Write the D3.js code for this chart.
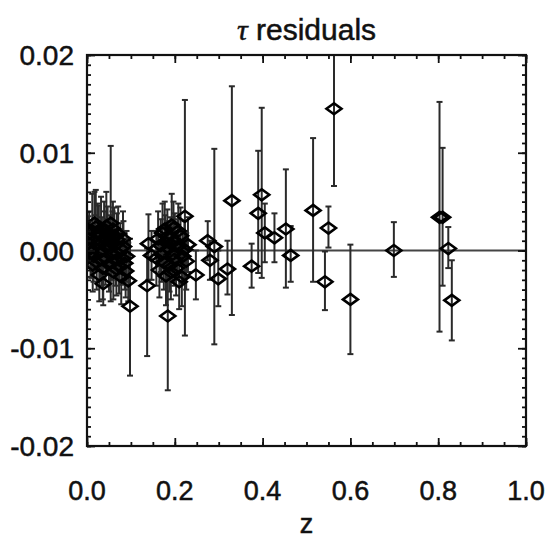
<html>
<head>
    <script src="https://cdnjs.cloudflare.com/ajax/libs/d3/7.8.5/d3.min.js"></script>
    <style>
        body { margin: 0; background: #fff; }
        text { font-family: 'Liberation Sans', Arial, sans-serif; fill: #111; stroke: #111; stroke-width: 0.5; }
    </style>
</head>
<body>
    <script>
        // redshift of each object
        const zValues = [
            0.005, 0.008, 0.010, 0.012, 0.015, 0.018, 0.020, 0.022, 0.025, 0.027,
            0.028, 0.030, 0.032, 0.034, 0.036, 0.037, 0.040, 0.042, 0.044, 0.045,
            0.047, 0.050, 0.052, 0.054, 0.056, 0.058, 0.060, 0.062, 0.063, 0.065,
            0.068, 0.070, 0.073, 0.076, 0.078, 0.080, 0.083, 0.086, 0.090, 0.094,
            0.098, 0.137, 0.140, 0.147, 0.158, 0.162, 0.165, 0.168, 0.172, 0.175,
            0.178, 0.180, 0.183, 0.184, 0.186, 0.188, 0.190, 0.193, 0.195, 0.197,
            0.200, 0.203, 0.206, 0.210, 0.213, 0.216, 0.218, 0.222, 0.223, 0.226,
            0.230, 0.248, 0.275, 0.280, 0.290, 0.299, 0.320, 0.330, 0.375, 0.390,
            0.398, 0.405, 0.427, 0.453, 0.464, 0.515, 0.542, 0.550, 0.5626, 0.600,
            0.699, 0.803, 0.810, 0.823, 0.831,
            0.003, 0.013, 0.017, 0.024, 0.033, 0.039, 0.048, 0.059, 0.067, 0.071,
            0.082, 0.088, 0.170, 0.177, 0.191, 0.199, 0.208
        ];
        // tau residual
        const tauValues = [
            0.0014, 0.0002, -0.0002, 0.0020, -0.0006, 0.0010, 0.0024, -0.0012, 0.0006, 0.0016,
            -0.0025, -0.0002, 0.0022, 0.0008, -0.0018, -0.0034, 0.0012, -0.0008, 0.0025, 0.0003,
            0.0018, -0.0014, 0.0009, 0.0028, -0.0004, 0.0013, -0.0022, 0.0015, 0.0005, -0.0010,
            0.0011, -0.0003, -0.0016, 0.0002, -0.0027, -0.0008, 0.0004, -0.0013, -0.0006, -0.0031,
            -0.0057, -0.0036, 0.0007, -0.0005, -0.0008, 0.0012, -0.0020, 0.0005, 0.0018, -0.0012,
            0.0009, -0.0026, 0.0014, -0.0067, 0.0002, -0.0015, 0.0007, 0.0026, -0.0004, 0.0023,
            0.0010, -0.0018, 0.0004, -0.0032, 0.0015, -0.0027, -0.0006, 0.0001, 0.0035, -0.0011,
            0.0006, -0.0025, 0.0010, -0.0010, 0.0004, -0.0029, -0.0019, 0.0051, -0.0016, 0.0038,
            0.0057, 0.0018, 0.0013, 0.0022, -0.0005, 0.0041, -0.0032, 0.0023, 0.0145, -0.0050,
            0.0000, 0.0034, 0.0034, 0.0002, -0.0051,
            0.0008, -0.0015, 0.0028, 0.0019, -0.0009, 0.0021, 0.0006, 0.0022, -0.0019, 0.0017,
            0.0012, -0.0021, -0.0004, 0.0022, -0.0022, -0.0009, 0.0020
        ];
        // upper end of each error bar
        const tauHigh = [
            0.0040, 0.0031, 0.0023, 0.0058, 0.0020, 0.0036, 0.0062, 0.0015, 0.0030, 0.0046,
            0.0005, 0.0025, 0.0055, 0.0034, 0.0012, -0.0008, 0.0040, 0.0020, 0.0060, 0.0028,
            0.0045, 0.0012, 0.0036, 0.0107, 0.0022, 0.0040, 0.0004, 0.0044, 0.0030, 0.0016,
            0.0038, 0.0022, 0.0010, 0.0028, 0.0000, 0.0018, 0.0030, 0.0012, 0.0020, 0.0008,
            0.0012, 0.0002, 0.0037, 0.0020, 0.0020, 0.0040, 0.0008, 0.0032, 0.0048, 0.0016,
            0.0036, 0.0004, 0.0042, 0.0005, 0.0030, 0.0012, 0.0034, 0.0058, 0.0024, 0.0050,
            0.0038, 0.0010, 0.0032, -0.0004, 0.0044, 0.0005, 0.0022, 0.0030, 0.0154, 0.0018,
            0.0034, 0.0000, 0.0030, 0.0010, 0.0104, 0.0000, 0.0010, 0.0168, 0.0007, 0.0102,
            0.0146, 0.0048, 0.0038, 0.0083, 0.0025, 0.0115, -0.0001, 0.0045, 0.0235, 0.0006,
            0.0029, 0.0152, 0.0105, 0.0024, -0.0010,
            0.0035, 0.0012, 0.0060, 0.0048, 0.0018, 0.0050, 0.0032, 0.0050, 0.0008, 0.0045,
            0.0040, 0.0005, 0.0024, 0.0050, 0.0006, 0.0018, 0.0048
        ];
        // lower end of each error bar
        const tauLow = [
            -0.0012, -0.0027, -0.0028, -0.0016, -0.0032, -0.0018, -0.0010, -0.0040, -0.0020, -0.0014,
            -0.0052, -0.0030, -0.0008, -0.0018, -0.0050, -0.0056, -0.0016, -0.0035, -0.0010, -0.0024,
            -0.0010, -0.0042, -0.0020, -0.0052, -0.0030, -0.0014, -0.0050, -0.0012, -0.0022, -0.0036,
            -0.0016, -0.0030, -0.0044, -0.0024, -0.0055, -0.0035, -0.0022, -0.0040, -0.0032, -0.0052,
            -0.0128, -0.0108, -0.0030, -0.0030, -0.0036, -0.0016, -0.0048, -0.0022, -0.0012, -0.0040,
            -0.0018, -0.0056, -0.0014, -0.0143, -0.0026, -0.0042, -0.0020, -0.0006, -0.0032, -0.0005,
            -0.0018, -0.0046, -0.0024, -0.0060, -0.0014, -0.0057, -0.0034, -0.0028, -0.0087, -0.0040,
            -0.0022, -0.0050, -0.0010, -0.0030, -0.0096, -0.0057, -0.0045, -0.0066, -0.0038, -0.0023,
            -0.0028, -0.0012, -0.0012, -0.0038, -0.0032, -0.0032, -0.0061, 0.0003, 0.0066, -0.0106,
            -0.0027, -0.0083, -0.0036, -0.0018, -0.0092,
            -0.0018, -0.0042, -0.0004, -0.0010, -0.0036, -0.0008, -0.0020, -0.0006, -0.0046, -0.0010,
            -0.0016, -0.0048, -0.0032, -0.0006, -0.0050, -0.0036, -0.0008
        ];

        const xTicks = [0.0, 0.2, 0.4, 0.6, 0.8, 1.0];
        const yTicks = [-0.02, -0.01, 0.00, 0.01, 0.02];

        const width = 550;
        const height = 544;
        const margin = { top: 55, right: 24, bottom: 98, left: 87 };

        const svg = d3.select('body').append('svg')
            .attr('width', width)
            .attr('height', height);

        const x = d3.scaleLinear().domain([0, 1]).range([margin.left, width - margin.right]);
        const y = d3.scaleLinear().domain([-0.02, 0.02]).range([height - margin.bottom, margin.top]);

        const minorX = d3.range(0, 1.0001, 0.05);
        const minorY = d3.range(-0.02, 0.02001, 0.001);

        const ink = '#111';
        const bigTick = 8;
        const smallTick = 4;

        // plain hyphen for negatives, like the original
        const fmt = p => d => d3.format(p)(d).replace('\u2212', '-');

        // clip so bars going over the top stop at the frame
        svg.append('clipPath').attr('id', 'plotclip')
            .append('rect')
            .attr('x', x(0)).attr('y', y(0.02))
            .attr('width', x(1) - x(0)).attr('height', y(-0.02) - y(0.02));

        // zero line
        svg.append('line')
            .attr('x1', x(0)).attr('x2', x(1))
            .attr('y1', y(0)).attr('y2', y(0))
            .style('stroke', '#444')
            .style('stroke-width', 2);

        const pts = zValues.map((z, i) => ({ z, v: tauValues[i], hi: tauHigh[i], lo: tauLow[i] }));

        const bars = svg.append('g').attr('clip-path', 'url(#plotclip)');

        bars.selectAll('.bar')
            .data(pts)
            .enter().append('line')
            .attr('class', 'bar')
            .attr('x1', d => x(d.z)).attr('x2', d => x(d.z))
            .attr('y1', d => y(d.lo)).attr('y2', d => y(d.hi))
            .style('stroke', '#2a2a2a')
            .style('stroke-width', 2);

        // little caps at both ends
        bars.selectAll('.cap')
            .data(pts.flatMap(d => [{ z: d.z, v: d.lo }, { z: d.z, v: d.hi }]))
            .enter().append('line')
            .attr('class', 'cap')
            .attr('x1', d => x(d.z) - 3).attr('x2', d => x(d.z) + 3)
            .attr('y1', d => y(d.v)).attr('y2', d => y(d.v))
            .style('stroke', '#2a2a2a')
            .style('stroke-width', 2);

        // diamonds
        bars.selectAll('.pt')
            .data(pts)
            .enter().append('path')
            .attr('class', 'pt')
            .attr('transform', d => `translate(${x(d.z)}, ${y(d.v)})`)
            .attr('d', 'M0,-5.5L7.5,0L0,5.5L-7.5,0Z')
            .style('fill', 'none')
            .style('stroke', '#000')
            .style('stroke-width', 2.6);

        // axes: labelled ones on left/bottom, bare ones on top/right
        function tickAxis(axisFn, scale, values, size, pos) {
            const g = svg.append('g')
                .attr('transform', pos)
                .call(axisFn(scale).tickValues(values).tickSize(-size).tickFormat(''));
            g.select('.domain').remove();
            g.selectAll('line').style('stroke', ink).style('stroke-width', 1.8);
            return g;
        }

        const bottomY = y(-0.02);
        const topY = y(0.02);
        tickAxis(d3.axisBottom, x, minorX, smallTick, `translate(0, ${bottomY})`);
        tickAxis(d3.axisBottom, x, xTicks, bigTick, `translate(0, ${bottomY})`);
        tickAxis(d3.axisTop, x, minorX, smallTick, `translate(0, ${topY})`);
        tickAxis(d3.axisTop, x, xTicks, bigTick, `translate(0, ${topY})`);
        tickAxis(d3.axisLeft, y, minorY, smallTick, `translate(${x(0)}, 0)`);
        tickAxis(d3.axisLeft, y, yTicks, bigTick, `translate(${x(0)}, 0)`);
        tickAxis(d3.axisRight, y, minorY, smallTick, `translate(${x(1)}, 0)`);
        tickAxis(d3.axisRight, y, yTicks, bigTick, `translate(${x(1)}, 0)`);

        // frame
        svg.append('rect')
            .attr('x', x(0)).attr('y', topY)
            .attr('width', x(1) - x(0)).attr('height', bottomY - topY)
            .style('fill', 'none')
            .style('stroke', ink)
            .style('stroke-width', 2.2);

        // tick labels
        svg.selectAll('.xlab')
            .data(xTicks)
            .enter().append('text')
            .attr('class', 'xlab')
            .attr('x', d => x(d))
            .attr('y', bottomY + 54)
            .attr('text-anchor', 'middle')
            .attr('font-size', 27)
            .text(fmt('.1f'));

        svg.selectAll('.ylab')
            .data(yTicks)
            .enter().append('text')
            .attr('class', 'ylab')
            .attr('x', x(0) - 13)
            .attr('y', d => y(d) + 10)
            .attr('text-anchor', 'end')
            .attr('font-size', 28)
            .text(fmt('.2f'));

        // title
        const title = svg.append('text')
            .attr('x', (x(0) + x(1)) / 2)
            .attr('y', 40)
            .attr('text-anchor', 'middle')
            .attr('font-size', 30);
        title.append('tspan')
            .style('font-family', "'Liberation Serif', serif")
            .style('font-style', 'italic')
            .text('τ');
        title.append('tspan').text(' residuals');

        svg.append('text')
            .attr('x', (x(0) + x(1)) / 2)
            .attr('y', 533)
            .attr('text-anchor', 'middle')
            .attr('font-size', 27)
            .text('z');
    </script>
</body>
</html>
